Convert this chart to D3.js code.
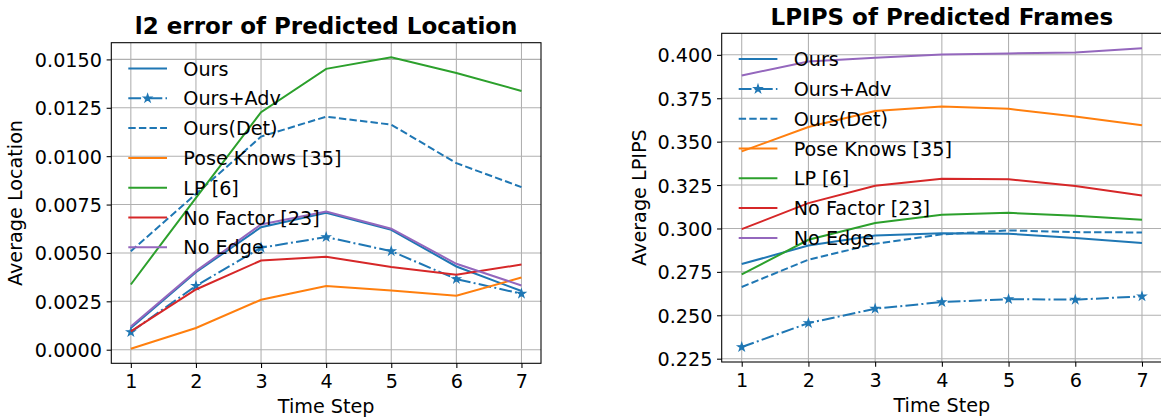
<!DOCTYPE html>
<html lang="en">
<head>
    <meta charset="UTF-8">
    <title>Predicted Location / LPIPS</title>
    <script src="https://d3js.org/d3.v7.min.js"></script>
    <style>
        body { margin: 0; background: #fff; }
        svg text { font-family: "DejaVu Sans", sans-serif; fill: #000; }
    </style>
</head>
<body>
    <div id="chart-container"></div>

    <script>
        // values
        const steps = [1, 2, 3, 4, 5, 6, 7];
        const methods = ["Ours", "Ours+Adv", "Ours(Det)", "Pose Knows [35]", "LP [6]", "No Factor [23]", "No Edge"];

        // l2 error of predicted location
        const locOurs      = [0.00112, 0.00400, 0.00633, 0.00707, 0.00619, 0.00430, 0.00303];
        const locOursAdv   = [0.00091, 0.00330, 0.00527, 0.00582, 0.00509, 0.00365, 0.00289];
        const locOursDet   = [0.00509, 0.00805, 0.01101, 0.01204, 0.01163, 0.00964, 0.00840];
        const locPoseKnows = [0.00005, 0.00112, 0.00258, 0.00329, 0.00306, 0.00279, 0.00373];
        const locLP        = [0.00337, 0.00785, 0.01227, 0.01451, 0.01511, 0.01430, 0.01337];
        const locNoFactor  = [0.00095, 0.00311, 0.00461, 0.00480, 0.00427, 0.00387, 0.00440];
        const locNoEdge    = [0.00120, 0.00406, 0.00647, 0.00714, 0.00625, 0.00444, 0.00332];

        // LPIPS of predicted frames
        const lpOurs      = [0.2795, 0.2902, 0.2960, 0.2973, 0.2970, 0.2945, 0.2916];
        const lpOursAdv   = [0.2317, 0.2455, 0.2538, 0.2576, 0.2593, 0.2590, 0.2609];
        const lpOursDet   = [0.2663, 0.2820, 0.2912, 0.2966, 0.2989, 0.2979, 0.2977];
        const lpPoseKnows = [0.3444, 0.3584, 0.3676, 0.3703, 0.3689, 0.3645, 0.3595];
        const lpLP        = [0.2735, 0.2935, 0.3031, 0.3079, 0.3090, 0.3073, 0.3050];
        const lpNoFactor  = [0.2996, 0.3146, 0.3246, 0.3286, 0.3284, 0.3244, 0.3190];
        const lpNoEdge    = [0.3881, 0.3962, 0.3983, 0.4002, 0.4008, 0.4013, 0.4038];

        const locTicks = [0, 0.0025, 0.005, 0.0075, 0.01, 0.0125, 0.015];
        const lpTicks = [0.225, 0.25, 0.275, 0.3, 0.325, 0.35, 0.375, 0.4];

        // matplotlib tab10 + line styles per method
        const styles = {
            "Ours":            { color: "#1f77b4", dash: null },
            "Ours+Adv":        { color: "#1f77b4", dash: "12.8,3.2,2,3.2", star: true },
            "Ours(Det)":       { color: "#1f77b4", dash: "7.4,3.2" },
            "Pose Knows [35]": { color: "#ff7f0e", dash: null },
            "LP [6]":          { color: "#2ca02c", dash: null },
            "No Factor [23]":  { color: "#d62728", dash: null },
            "No Edge":         { color: "#9467bd", dash: null }
        };

        const W = 1161, H = 417;
        const fs = 19.2;

        const panels = [
            {
                id: "loc", title: "l2 error of Predicted Location", ylabel: "Average Location",
                left: 111.3, right: 541, top: 42.7, bottom: 363.3, ylabelX: 22,
                ticks: locTicks, fmt: d3.format(".4f"),
                series: [locOurs, locOursAdv, locOursDet, locPoseKnows, locLP, locNoFactor, locNoEdge]
            },
            {
                id: "lp", title: "LPIPS of Predicted Frames", ylabel: "Average LPIPS",
                left: 721.7, right: 1162, top: 33.3, bottom: 362, ylabelX: 646,
                ticks: lpTicks, fmt: d3.format(".3f"),
                series: [lpOurs, lpOursAdv, lpOursDet, lpPoseKnows, lpLP, lpNoFactor, lpNoEdge]
            }
        ];

        const svg = d3.select("#chart-container")
            .append("svg")
            .attr("width", W)
            .attr("height", H);

        svg.append("rect").attr("width", W).attr("height", H).attr("fill", "#fff");

        const star = d3.symbol().type(d3.symbolStar).size(18);

        panels.forEach(function(p) {
            const g = svg.append("g");

            // autoscale like matplotlib: 5% margins
            const all = p.series.flat();
            const lo = d3.min(all), hi = d3.max(all), pad = (hi - lo) * 0.05;
            const x = d3.scaleLinear().domain([0.7, 7.3]).range([p.left, p.right]);
            const y = d3.scaleLinear().domain([lo - pad, hi + pad]).range([p.bottom, p.top]);

            svg.append("clipPath").attr("id", "clip-" + p.id)
                .append("rect")
                .attr("x", p.left).attr("y", p.top)
                .attr("width", p.right - p.left).attr("height", p.bottom - p.top);

            // grid
            g.append("g").selectAll("line").data(steps).join("line")
                .attr("x1", d => x(d)).attr("x2", d => x(d))
                .attr("y1", p.top).attr("y2", p.bottom)
                .attr("stroke", "#b0b0b0").attr("stroke-width", 1.07);
            g.append("g").selectAll("line").data(p.ticks).join("line")
                .attr("x1", p.left).attr("x2", p.right)
                .attr("y1", d => y(d)).attr("y2", d => y(d))
                .attr("stroke", "#b0b0b0").attr("stroke-width", 1.07);

            // series
            const line = d3.line().x((d, i) => x(steps[i])).y(d => y(d));
            const plot = g.append("g").attr("clip-path", "url(#clip-" + p.id + ")");
            p.series.forEach(function(vals, k) {
                const st = styles[methods[k]];
                plot.append("path")
                    .attr("d", line(vals))
                    .attr("fill", "none")
                    .attr("stroke", st.color)
                    .attr("stroke-width", 2)
                    .attr("stroke-dasharray", st.dash);
                if (st.star) {
                    plot.selectAll(null).data(vals).join("path")
                        .attr("d", star)
                        .attr("transform", (d, i) => `translate(${x(steps[i])},${y(d)})`)
                        .attr("fill", st.color)
                        .attr("stroke", st.color)
                        .attr("stroke-width", 1.33);
                }
            });

            // axes
            const xAxis = g.append("g")
                .attr("transform", `translate(0,${p.bottom})`)
                .call(d3.axisBottom(x).tickValues(steps).tickFormat(d3.format("d"))
                    .tickSize(4.67).tickPadding(4.67));
            const yAxis = g.append("g")
                .attr("transform", `translate(${p.left},0)`)
                .call(d3.axisLeft(y).tickValues(p.ticks).tickFormat(p.fmt)
                    .tickSize(4.67).tickPadding(4.67));
            [xAxis, yAxis].forEach(a => {
                a.select(".domain").remove();
                a.selectAll("line").attr("stroke", "#000").attr("stroke-width", 1.07);
                a.selectAll("text").attr("font-size", fs).attr("fill", "#000")
                    .attr("font-family", "DejaVu Sans");
            });
            xAxis.selectAll("text").attr("dy", null).attr("y", 24.8);
            yAxis.selectAll("text").attr("dy", null).attr("y", 7);

            // frame
            g.append("rect")
                .attr("x", p.left).attr("y", p.top)
                .attr("width", p.right - p.left).attr("height", p.bottom - p.top)
                .attr("fill", "none").attr("stroke", "#000").attr("stroke-width", 1.07);

            // title + labels
            g.append("text")
                .attr("x", (p.left + p.right) / 2).attr("y", p.top - 8.4)
                .attr("text-anchor", "middle")
                .attr("font-size", 23).attr("font-weight", "bold")
                .text(p.title);
            g.append("text")
                .attr("x", (p.left + p.right) / 2).attr("y", p.bottom + 49.5)
                .attr("text-anchor", "middle")
                .attr("font-size", fs)
                .text("Time Step");
            g.append("text")
                .attr("transform", `translate(${p.ylabelX},${(p.top + p.bottom) / 2}) rotate(-90)`)
                .attr("text-anchor", "middle")
                .attr("font-size", fs)
                .text(p.ylabel);

            // legend (no frame)
            const leg = g.append("g");
            methods.forEach(function(name, k) {
                const st = styles[name];
                const ly = p.top + 25.8 + k * 29.8;
                leg.append("line")
                    .attr("x1", p.left + 17).attr("x2", p.left + 55.7)
                    .attr("y1", ly).attr("y2", ly)
                    .attr("stroke", st.color).attr("stroke-width", 2)
                    .attr("stroke-dasharray", st.dash);
                if (st.star) {
                    leg.append("path").attr("d", star)
                        .attr("transform", `translate(${p.left + 36.3},${ly})`)
                        .attr("fill", st.color).attr("stroke", st.color).attr("stroke-width", 1.33);
                }
                leg.append("text")
                    .attr("x", p.left + 72).attr("y", ly + 7)
                    .attr("font-size", fs)
                    .text(name);
            });
        });
    </script>
</body>
</html>
